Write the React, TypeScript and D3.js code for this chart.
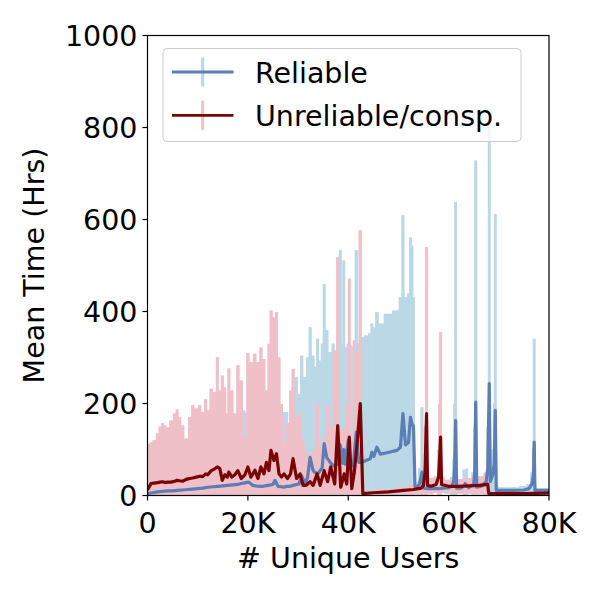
import React from 'react';
import * as d3 from 'd3';

// ---- axis ticks ----
const xTicks = [0, 20, 40, 60, 80];
const xTickLabels = ['0', '20K', '40K', '60K', '80K'];
const yTicks = [0, 200, 400, 600, 800, 1000];

// ---- Reliable series (x in thousands of users, mean hrs, mean+err hrs) ----
const reliableX = [
  0, 1, 2, 3, 4, 5, 6, 7, 8, 9,
  10, 11, 12, 13, 14, 15, 16, 17, 18, 18.7,
  19.2, 19.6, 20.2, 21, 22, 23, 24, 25, 25.4, 26,
  26.7, 27.2, 27.7, 28.4, 29, 29.7, 30.2, 30.7, 31.4, 31.9,
  32.4, 33, 33.4, 33.9, 34.4, 34.8, 35.2, 35.7, 36.4, 37,
  37.5, 38.1, 38.4, 38.9, 39.1, 39.4, 40, 40.5, 41, 41.6,
  42.1, 42.7, 43.5, 44.4, 44.7, 45.1, 45.7, 46.4, 47.7, 49.7,
  50.4, 50.9, 51.4, 52, 52.4, 52.7, 53, 53.3, 53.6, 54.2,
  54.7, 55, 56, 58, 60, 60.6, 61, 61.2, 61.4, 61.6,
  62.5, 63.1, 63.3, 63.6, 64, 65, 65.2, 65.4, 65.6, 66.5,
  67.5, 67.8, 68.1, 68.3, 68.8, 69.1, 69.3, 69.5, 70.5, 73,
  75, 76, 76.6, 76.9, 77.05, 77.2, 78, 80,
];
const reliableMean = [
  4, 6, 8, 9, 10, 10, 11, 12, 13, 14,
  15, 16, 18, 19, 20, 21, 22, 23, 24, 26,
  27, 28, 29, 22, 20, 20, 22, 24, 33, 20,
  19, 18, 20, 20, 22, 24, 25, 43, 25, 40,
  83, 54, 50, 47, 54, 60, 113, 83, 72, 65,
  66, 69, 110, 70, 100, 68, 120, 66, 65, 138,
  72, 72, 76, 80, 94, 85, 105, 90, 93, 98,
  105, 178, 110, 115, 170, 156, 150, 20, 16, 25,
  51, 16, 15, 15, 17, 20, 30, 60, 163, 16,
  16, 22, 26, 22, 17, 25, 50, 203, 18, 20,
  30, 60, 243, 30, 45, 70, 185, 11, 11, 11,
  12, 15, 25, 45, 116, 11, 11, 11,
];
const reliableHigh = [
  30, 45, 55, 60, 70, 75, 80, 85, 90, 100,
  105, 110, 120, 125, 130, 135, 140, 150, 160, 165,
  185, 180, 170, 175, 180, 185, 185, 190, 195, 185,
  175, 181, 181, 148, 235, 257, 220, 304, 257, 300,
  366, 304, 280, 341, 293, 330, 460, 359, 312, 330,
  300, 380, 533, 330, 511, 322, 330, 326, 322, 533,
  330, 344, 348, 352, 374, 365, 399, 374, 395, 402,
  431, 609, 431, 439, 561, 543, 431, 30, 25, 60,
  192, 25, 22, 24, 30, 40, 80, 200, 638, 24,
  24, 56, 35, 58, 28, 50, 150, 728, 30, 35,
  50, 150, 810, 60, 100, 200, 612, 20, 18, 18,
  20, 25, 50, 100, 341, 18, 16, 16,
];

// ---- Unreliable/consp. series ----
const unreliableX = [
  0, 0.3, 0.7, 1.3, 2, 2.5, 3, 3.5, 4, 4.7,
  5.4, 5.9, 6.4, 7, 7.7, 8.4, 9, 9.7, 10.4, 11,
  11.6, 12, 12.7, 13.4, 13.9, 14.4, 14.9, 15.4, 15.9, 16.2,
  16.8, 17.4, 18, 18.7, 19.4, 20, 20.6, 21.4, 22, 22.6,
  23.2, 23.7, 24.2, 24.6, 25.2, 25.7, 26.2, 26.7, 27.2, 27.9,
  28.5, 29, 29.7, 30.4, 31, 31.6, 32.4, 33, 33.8, 34.4,
  35.2, 35.9, 36.5, 37.3, 37.9, 38.5, 39.2, 39.7, 40.2, 40.7,
  41.2, 41.7, 42.4, 42.9,
  45, 48, 51, 53, 54.5, 55, 55.3, 55.6, 55.8, 56.5,
  57.5, 58, 58.2, 58.4, 58.6, 60, 62, 64, 66, 67.8,
  68, 70, 75, 80,
];
const unreliableMean = [
  12, 18, 26, 27, 28, 29, 30, 28, 29, 29,
  31, 33, 32, 31, 35, 37, 38, 40, 42, 41,
  47, 45, 54, 58, 62, 59, 33, 45, 40, 51,
  40, 45, 54, 37, 45, 62, 40, 55, 37, 62,
  47, 72, 54, 98, 76, 91, 47, 40, 47, 37,
  47, 80, 37, 47, 22, 22, 30, 22, 47, 22,
  54, 30, 62, 25, 152, 18, 47, 25, 127, 15,
  50, 105, 200, 4,
  6, 8, 11, 13, 16, 22, 50, 178, 22, 20,
  24, 40, 80, 127, 24, 20, 20, 21, 22, 24,
  4, 4, 4, 5,
];
const unreliableHigh = [
  98, 112, 116, 120, 135, 150, 157, 152, 148, 163,
  178, 187, 170, 152, 124, 170, 196, 189, 196, 181,
  209, 185, 232, 225, 301, 228, 261, 235, 178, 276,
  228, 178, 283, 250, 130, 310, 290, 308, 290, 322,
  297, 228, 330, 402, 388, 399, 300, 199, 113, 157,
  228, 275, 170, 178, 120, 95, 85, 100, 200, 110,
  127, 196, 150, 315, 518, 140, 148, 200, 471, 120,
  337, 312, 576, 8,
  11, 14, 18, 24, 32, 60, 150, 540, 40, 38,
  42, 100, 200, 355, 40, 34, 36, 38, 42, 48,
  6, 6, 6, 7,
];

const legendLabels = ['Reliable', 'Unreliable/consp.'];

const C = {
  relBar: '#bad8e6',
  relLine: '#5b7eb4',
  unrBar: '#f0c0c9',
  unrLine: '#7a0404',
};

type P = { x: number; m: number; hi: number; lo: number };

function build(xs: number[], mean: number[], high: number[]): P[] {
  return xs.map((v, i) => ({
    x: v,
    m: mean[i],
    hi: high[i],
    lo: Math.max(0, mean[i] - (high[i] - mean[i])),
  }));
}

export default function App() {
  const W = 600;
  const H = 600;
  const L = 147.5, R = 549, T = 35.5, B = 495.5;
  const x = d3.scaleLinear().domain([0, 80]).range([L, R]);
  const y = d3.scaleLinear().domain([0, 1000]).range([B, T]);
  const font = '"DejaVu Sans", sans-serif';
  const fs = 28.5;

  const rel = build(reliableX, reliableMean, reliableHigh);
  const unr = build(unreliableX, unreliableMean, unreliableHigh);

  const area = d3
    .area<P>()
    .x((d) => x(d.x))
    .y0((d) => y(d.lo))
    .y1((d) => y(d.hi))
    .curve(d3.curveStep);
  const line = d3
    .line<P>()
    .x((d) => x(d.x))
    .y((d) => y(d.m));

  const bars = (data: P[], color: string) =>
    data.map((d, i) => (
      <line key={i} x1={x(d.x)} x2={x(d.x)} y1={y(d.lo)} y2={y(d.hi)} stroke={color} strokeWidth={3} />
    ));

  return (
    <svg width={W} height={H} style={{ position: 'absolute', left: 0, top: 0, background: '#fff' }}>
      <defs>
        <clipPath id="plot">
          <rect x={L} y={T} width={R - L} height={B - T} />
        </clipPath>
      </defs>
      <rect x={0} y={0} width={W} height={H} fill="#fff" />
      <g clipPath="url(#plot)">
        <path d={area(rel) || ''} fill={C.relBar} />
        {bars(rel, C.relBar)}
        <path d={area(unr) || ''} fill={C.unrBar} />
        {bars(unr, C.unrBar)}
        <path d={line(rel) || ''} fill="none" stroke={C.relLine} strokeWidth={3.2} strokeLinejoin="round" />
        <path d={line(unr) || ''} fill="none" stroke={C.unrLine} strokeWidth={3.2} strokeLinejoin="round" />
      </g>
      {/* spines */}
      <rect x={L} y={T} width={R - L} height={B - T} fill="none" stroke="#000" strokeWidth={1.2} />
      {/* x ticks */}
      {xTicks.map((t, i) => (
        <g key={'x' + i}>
          <line x1={x(t)} x2={x(t)} y1={B} y2={B + 5} stroke="#000" strokeWidth={1.2} />
          <text x={x(t)} y={533} textAnchor="middle" fontFamily={font} fontSize={fs}>
            {xTickLabels[i]}
          </text>
        </g>
      ))}
      {/* y ticks */}
      {yTicks.map((t, i) => (
        <g key={'y' + i}>
          <line x1={L - 5} x2={L} y1={y(t)} y2={y(t)} stroke="#000" strokeWidth={1.2} />
          <text x={137.5} y={y(t) + 10.3} textAnchor="end" fontFamily={font} fontSize={fs}>
            {t}
          </text>
        </g>
      ))}
      <text x={(L + R) / 2} y={568} textAnchor="middle" fontFamily={font} fontSize={fs}>
        # Unique Users
      </text>
      <text transform={`translate(43.5,${(T + B) / 2}) rotate(-90)`} textAnchor="middle" fontFamily={font} fontSize={fs}>
        Mean Time (Hrs)
      </text>
      {/* legend */}
      <g>
        <rect x={163} y={48.5} width={358} height={93} rx={4} fill="#fff" fillOpacity={0.8} stroke="#cccccc" strokeWidth={1} />
        {legendLabels.map((lab, i) => {
          const cy = 72 + i * 43.3;
          const barC = i === 0 ? C.relBar : C.unrBar;
          const lineC = i === 0 ? C.relLine : C.unrLine;
          return (
            <g key={'lg' + i}>
              <line x1={202.7} x2={202.7} y1={cy - 14.5} y2={cy + 14.5} stroke={barC} strokeWidth={3} />
              <line x1={172} x2={233.5} y1={cy} y2={cy} stroke={lineC} strokeWidth={2.8} />
              <text x={255} y={cy + 10.5} fontFamily={font} fontSize={fs}>
                {lab}
              </text>
            </g>
          );
        })}
      </g>
    </svg>
  );
}
